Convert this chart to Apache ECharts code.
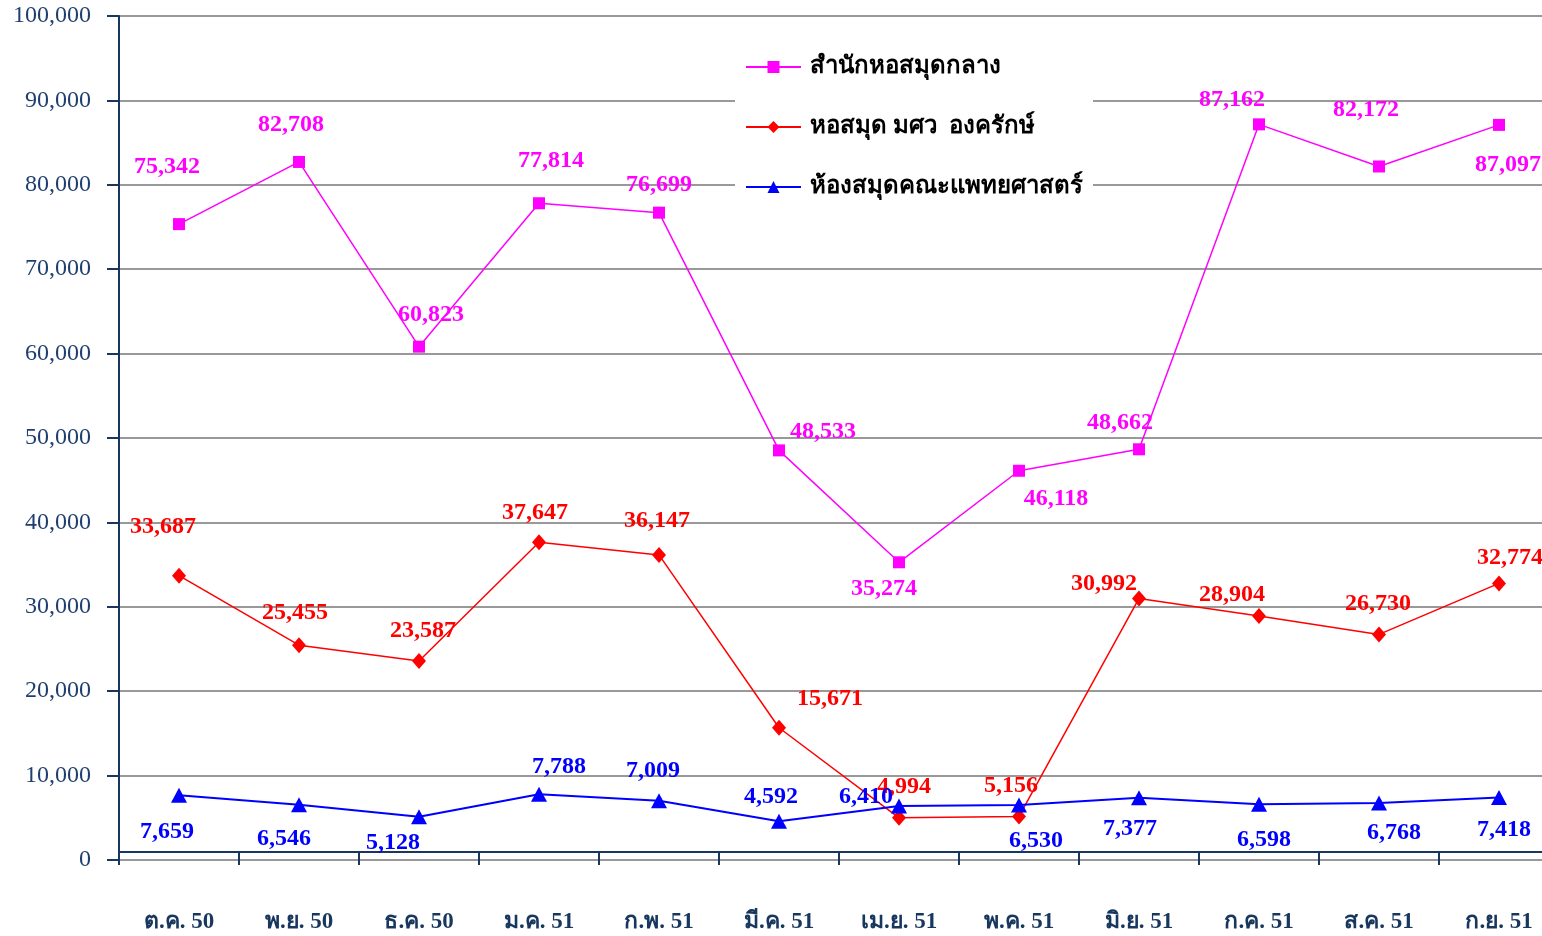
<!DOCTYPE html>
<html>
<head>
<meta charset="utf-8">
<script src="https://cdn.jsdelivr.net/npm/echarts@6/dist/echarts.min.js"></script>
<style>
html,body{margin:0;padding:0;background:#fff;overflow:hidden;width:1542px;height:936px;}
#chart{width:1559px;height:936px;}
</style>
</head>
<body>
<div id="chart"></div>
<script>
var categories = ['ต.ค. 50','พ.ย. 50','ธ.ค. 50','ม.ค. 51','ก.พ. 51','มี.ค. 51','เม.ย. 51','พ.ค. 51','มิ.ย. 51','ก.ค. 51','ส.ค. 51','ก.ย. 51'];
var seriesNames = ['สำนักหอสมุดกลาง','หอสมุด มศว  องครักษ์','ห้องสมุดคณะแพทยศาสตร์'];
var centralLib = [75342,82708,60823,77814,76699,48533,35274,46118,48662,87162,82172,87097];
var ongkharakLib = [33687,25455,23587,37647,36147,15671,4994,5156,30992,28904,26730,32774];
var medicineLib = [7659,6546,5128,7788,7009,4592,6410,6530,7377,6598,6768,7418];
var yTicks = {min:0, max:100000, interval:10000};

// label offsets (pixels, relative to each marker)
var centralOffsets = [[-12,-57],[-8,-37],[12,-32],[12,-42],[0,-28],[44,-19],[-15,27],[37,28],[-19,-26],[-27,-25],[-13,-57],[9,40]];
var ongkharakOffsets = [[-16,-49],[-4,-32],[4,-30],[-4,-29],[-2,-34],[51,-29],[5,-31],[-8,-31],[-35,-15],[-27,-21],[-1,-31],[11,-26]];
var medicineOffsets = [[-12,36],[-15,34],[-26,26],[20,-27],[-6,-30],[-8,-24],[-33,-9],[17,36],[-9,31],[5,35],[15,30],[5,32]];

function fmt(v){ return v.toString().replace(/\B(?=(\d{3})+(?!\d))/g, ','); }
var SERIF = '"Liberation Serif","Times New Roman",serif';

function buildData(values, offsets, color){
  return values.map(function(v,i){
    return {value:v, label:{show:true, position:'inside', offset:offsets[i], formatter:fmt(v),
      color:color, fontFamily:SERIF, fontWeight:'bold', fontSize:24, align:'center', verticalAlign:'middle'}};
  });
}

var chart = echarts.init(document.getElementById('chart'), null, {renderer:'canvas'});
chart.setOption({
  animation:false,
  backgroundColor:'#ffffff',
  grid:{left:119, top:16, right:0, bottom:76, containLabel:false},
  legend:{
    left:735, top:44, orient:'vertical',
    backgroundColor:'#ffffff',
    padding:[8,10,6,10],
    itemWidth:55, itemHeight:15, itemGap:30,
    textStyle:{fontFamily:SERIF, fontWeight:'bold', fontSize:24, color:'#000', lineHeight:30, padding:[0,0,0,4]},
    data:seriesNames
  },
  xAxis:{
    type:'category', data:categories, boundaryGap:true, offset:-8,
    axisLine:{show:true, lineStyle:{color:'#17375E', width:2}},
    axisTick:{show:true, length:13, inside:false, interval:0, lineStyle:{color:'#17375E', width:2}},
    axisLabel:{interval:0, margin:59, color:'#17375E', fontFamily:SERIF, fontWeight:'bold', fontSize:23},
    splitLine:{show:false}
  },
  yAxis:{
    type:'value', min:yTicks.min, max:yTicks.max, interval:yTicks.interval,
    axisLine:{show:true, lineStyle:{color:'#17375E', width:2}},
    axisTick:{show:true, length:12, lineStyle:{color:'#17375E', width:2}},
    axisLabel:{margin:28, color:'#1F3F6F', fontFamily:SERIF, fontSize:24, formatter:function(v){return fmt(v);}},
    splitLine:{show:true, lineStyle:{color:'#999999', width:2}}
  },
  series:[
    {name:seriesNames[0], type:'line', data:buildData(centralLib, centralOffsets, '#FF00FF'),
      symbol:'rect', symbolSize:12, color:'#FF00FF',
      lineStyle:{color:'#FF00FF', width:1.5}, itemStyle:{color:'#FF00FF'}, z:3},
    {name:seriesNames[1], type:'line', data:buildData(ongkharakLib, ongkharakOffsets, '#FF0000'),
      symbol:'diamond', symbolSize:[14,16], color:'#FF0000',
      lineStyle:{color:'#FF0000', width:1.5}, itemStyle:{color:'#FF0000'}, z:4},
    {name:seriesNames[2], type:'line', data:buildData(medicineLib, medicineOffsets, '#0000FF'),
      symbol:'triangle', symbolSize:[16,15], color:'#0000FF',
      lineStyle:{color:'#0000FF', width:2}, itemStyle:{color:'#0000FF'}, z:5}
  ]
});
</script>
</body>
</html>
